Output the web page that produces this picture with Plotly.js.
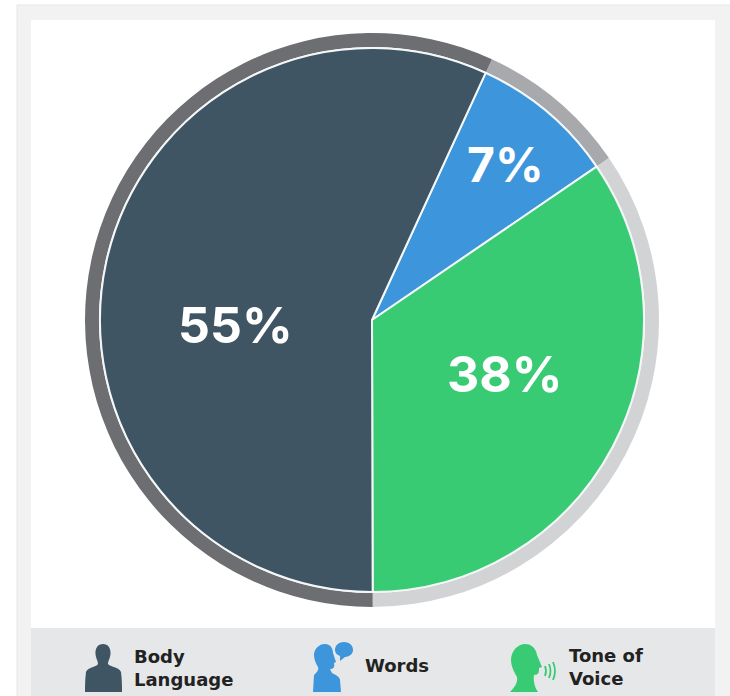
<!DOCTYPE html>
<html><head><meta charset="utf-8">
<script src="https://cdn.plot.ly/plotly-3.0.1.min.js"></script>
<style>html,body{margin:0;padding:0;background:#fff}#c{width:730px;height:696px}</style>
</head><body><div id="c"></div>
<script>
// Slice sizes as drawn in the picture (shares of the circle), clockwise from the blue slice
var categories = ["Words", "Tone of Voice", "Body Language"];
var drawnShares = [8.6, 34.5, 56.9];
var printedLabels = ["7%", "38%", "55%"];
var sliceColors = ["#3d95dc", "#39cb74", "#3f5563"];
var ringColors = ["#a7a9ac", "#d1d3d4", "#6d6e71"];
var startAngle = 24.7;

var W = 730, H = 696, CX = 372, CY = 320;
function dom(r){ return {x:[(CX-r)/W,(CX+r)/W], y:[1-(CY+r)/H,1-(CY-r)/H]}; }
function X(v){ return v/W; }
function Y(v){ return 1-v/H; }
// scale an SVG path written in pixels to paper fractions
function P(s){
  var i=0;
  return s.replace(/-?\d+(\.\d+)?/g,function(n){ var v=parseFloat(n); return ((i++%2===0)?X(v):Y(v)).toFixed(5); });
}
function rect(x0,y0,x1,y1,fill,line){
  return {type:'rect',xref:'paper',yref:'paper',x0:X(x0),x1:X(x1),y0:Y(y0),y1:Y(y1),fillcolor:fill,line:{width:line?1:0,color:line||fill},layer:'below'};
}
function path(s,fill){ return {type:'path',xref:'paper',yref:'paper',path:P(s),fillcolor:fill,line:{width:0},layer:'above'}; }
function stroke(s,col,w){ return {type:'path',xref:'paper',yref:'paper',path:P(s),line:{width:w,color:col},layer:'above'}; }

var shapes = [
  rect(17,5,731,697,'#f2f2f2','#e6e6e6'),
  rect(31,20,715,628,'#ffffff'),
  rect(31,628,715,696,'#e6e7e8'),
  // Body Language icon
  path("M103 644 C108 644 111 648 110.5 654 C110 659 108 661 108 664 C110 667 119 667 121 672 C122 680 122 686 122 692 L85 692 C85 686 85 680 86 672 C88 667 97 667 98 664 C98 661 96 659 95.5 654 C95 648 98 644 103 644 Z",'#3f5563'),
  // Words icon
  path("M325 644 C330 644 333 648 333 653 L336 662 L334 663 C335 668 333 669 330 669 L332 673 C336 675 340 677 340 680 L341 692 L313 692 L314 675 C317 672 319 670 318 667 C316 664 314 659 314 655 C314 649 319 644 325 644 Z",'#3d95dc'),
  path("M344 642 C350 642 353 646 353 650 C353 654 349 657 345 657 L340 661 L340 656 C337 655 335 653 335 650 C335 645 339 642 344 642 Z",'#3d95dc'),
  // Tone of Voice icon
  path("M525 644 C532 644 536 649 537 655 L542 667 L539 668 C539 672 539 675 534 675 C533 681 535 688 538 692 L510 692 C514 688 518 683 517 677 C514 672 511 666 511 660 C511 651 518 644 525 644 Z",'#39cb74'),
  stroke("M545 666 Q547 671 545 676",'#39cb74',1.8),
  stroke("M549 664 Q552 671 549 678",'#39cb74',1.8),
  stroke("M553 662 Q557 671 553 680",'#39cb74',1.8)
];

var ring = {type:'pie',values:drawnShares,labels:categories,sort:false,direction:'clockwise',rotation:startAngle,
  hole:273/287,domain:dom(287),textinfo:'none',hoverinfo:'skip',showlegend:false,
  marker:{colors:ringColors,line:{width:0}}};
var inner = {type:'pie',values:drawnShares,labels:categories,sort:false,direction:'clockwise',rotation:startAngle,
  domain:dom(272),textinfo:'none',hoverinfo:'skip',showlegend:false,
  marker:{colors:sliceColors,line:{width:2,color:'#f4f7f8'}}};

function note(t,x,y,size,col,anchor,weight,fam){
  return {text:t,xref:'paper',yref:'paper',x:X(x),y:Y(y),xanchor:anchor,yanchor:'middle',align:'left',showarrow:false,
    font:{family:fam,size:size,color:col,weight:weight},borderpad:0,borderwidth:0};
}
var pctFont = 'Inter, sans-serif', keyFont = '"DejaVu Sans", sans-serif';
var annotations = [
  note(printedLabels[0],505.5,164,48,'#ffffff','center',700,pctFont),
  note(printedLabels[1],505,374,50,'#ffffff','center',700,pctFont),
  note(printedLabels[2],235,325,50,'#ffffff','center',700,pctFont),
  note('Body<br>Language',134,668,18,'#222222','left',700,keyFont),
  note('Words',365,665,18,'#222222','left',700,keyFont),
  note('Tone of<br>Voice',569,667,18,'#222222','left',700,keyFont)
];

Plotly.newPlot('c',[ring,inner],{
  width:W,height:H,margin:{l:0,r:0,t:0,b:0},paper_bgcolor:'#ffffff',
  showlegend:false,shapes:shapes,annotations:annotations
},{displayModeBar:false,staticPlot:true});
</script></body></html>
